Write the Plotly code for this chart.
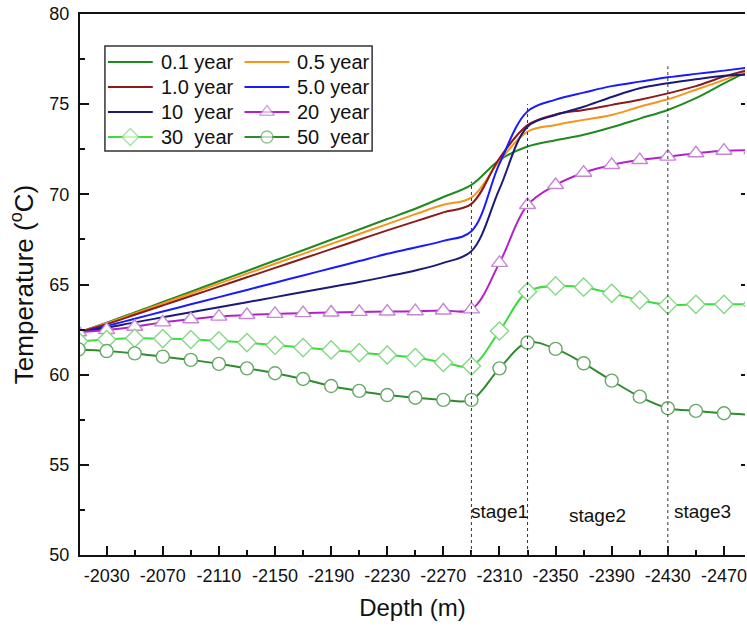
import plotly.graph_objects as go

depth = [-2010, -2030, -2050, -2070, -2090, -2110, -2130, -2150, -2170, -2190,
         -2210, -2230, -2250, -2270, -2290, -2310, -2330, -2350, -2370, -2390,
         -2410, -2430, -2450, -2470, -2490]

t_01 = [62.35, 62.88, 63.45, 64.03, 64.6, 65.18, 65.75, 66.33, 66.9, 67.48,
        68.05, 68.63, 69.2, 69.85, 70.52, 71.9, 72.65, 73.0, 73.3, 73.72,
        74.2, 74.68, 75.33, 76.15, 76.95]
t_05 = [62.35, 62.85, 63.4, 63.95, 64.5, 65.05, 65.6, 66.15, 66.7, 67.25,
        67.8, 68.35, 68.9, 69.42, 69.82, 71.85, 73.48, 73.85, 74.13, 74.4,
        74.86, 75.27, 75.8, 76.35, 76.95]
t_1 = [62.35, 62.8, 63.32, 63.84, 64.36, 64.88, 65.4, 65.92, 66.44, 66.96,
       67.48, 68.0, 68.5, 69.0, 69.47, 72.0, 73.84, 74.43, 74.68, 74.96,
       75.25, 75.6, 76.0, 76.53, 76.95]
t_5 = [62.35, 62.7, 63.1, 63.5, 63.9, 64.3, 64.7, 65.1, 65.5, 65.9,
       66.3, 66.7, 67.05, 67.42, 67.95, 71.7, 74.6, 75.25, 75.64, 76.0,
       76.25, 76.49, 76.68, 76.86, 77.05]
t_10 = [62.35, 62.6, 62.9, 63.18, 63.46, 63.74, 64.02, 64.3, 64.58, 64.86,
        65.14, 65.45, 65.78, 66.2, 66.85, 70.3, 73.75, 74.4, 74.86, 75.4,
        75.88, 76.16, 76.38, 76.57, 76.65]
t_20 = [62.35, 62.48, 62.66, 62.9, 63.07, 63.22, 63.31, 63.37, 63.41, 63.45,
        63.48, 63.5, 63.52, 63.56, 63.62, 66.2, 69.41, 70.52, 71.2, 71.63,
        71.9, 72.09, 72.28, 72.42, 72.45]
t_30 = [61.85, 61.95, 62.02, 62.0, 61.95, 61.88, 61.78, 61.63, 61.5, 61.37,
        61.22, 61.09, 60.95, 60.68, 60.48, 62.42, 64.6, 64.92, 64.85, 64.51,
        64.14, 63.87, 63.9, 63.9, 63.9]
t_50 = [61.4, 61.31, 61.18, 61.0, 60.82, 60.6, 60.35, 60.08, 59.76, 59.37,
        59.1, 58.87, 58.72, 58.6, 58.6, 60.35, 61.78, 61.43, 60.63, 59.67,
        58.78, 58.14, 57.99, 57.86, 57.78]

x_ticks = [-2030, -2070, -2110, -2150, -2190, -2230, -2270, -2310, -2350,
           -2390, -2430, -2470]
x_tick_text = ["-2030", "-2070", "-2110", "-2150", "-2190", "-2230", "-2270",
               "-2310", "-2350", "-2390", "-2430", "-2470"]
y_ticks = [50, 55, 60, 65, 70, 75, 80]

stage_bounds = [-2290, -2330, -2430]
stage_line_top = [70.7, 75.0, 77.1]
stage_names = ["stage1", "stage2", "stage3"]
stage_label_x = [-2310, -2380, -2455]
stage_label_y = [52.4, 52.2, 52.4]

FONT = "Liberation Sans, Arial, sans-serif"

# name, values, line colour, marker symbol, marker colour, legend column, legend row
series = [
    ("0.1 year", t_01, "#1f8a1f", None, None, 0, 0),
    ("0.5 year", t_05, "#f7941d", None, None, 1, 0),
    ("1.0 year", t_1, "#8b1a1a", None, None, 0, 1),
    ("5.0 year", t_5, "#1a1aff", None, None, 1, 1),
    ("10  year", t_10, "#1a1a7a", None, None, 0, 2),
    ("20  year", t_20, "#b321c9", "triangle-up", "#c586d6", 1, 2),
    ("30  year", t_30, "#3ddc3d", "diamond", "#86d886", 0, 3),
    ("50  year", t_50, "#2e8b2e", "circle", "#6aa86a", 1, 3),
]
marker_size = {"triangle-up": 14, "diamond": 14, "circle": 13}

fig = go.Figure()
for name, vals, col, sym, mcol, _, _ in series:
    kw = dict(x=depth, y=vals, name=name, showlegend=False,
              line=dict(color=col, width=2, shape="spline", smoothing=1.0))
    if sym:
        kw["mode"] = "lines+markers"
        kw["marker"] = dict(symbol=sym, size=marker_size[sym], color="white",
                            line=dict(color=mcol, width=1.4))
    else:
        kw["mode"] = "lines"
    fig.add_trace(go.Scatter(**kw))

# dummy trace for right-side ticks
fig.add_trace(go.Scatter(x=[], y=[], yaxis="y2", showlegend=False, hoverinfo="skip"))

# manual legend on a pixel-based helper axis pair (x2 / y3)
leg_col_x = [108, 245]
leg_row_y = [62, 87, 112, 137]
leg_line_len = 45
annotations = []
for name, vals, col, sym, mcol, c, r in series:
    x0 = leg_col_x[c]
    yy = leg_row_y[r]
    xs = [x0, x0 + leg_line_len / 2, x0 + leg_line_len]
    kw = dict(x=xs, y=[yy, yy, yy], xaxis="x2", yaxis="y3", showlegend=False,
              hoverinfo="skip", line=dict(color=col, width=2))
    if sym:
        kw["mode"] = "lines+markers"
        kw["marker"] = dict(symbol=sym, size=[0, marker_size[sym] - 1, 0], color="white",
                            line=dict(color=mcol, width=1.4))
    else:
        kw["mode"] = "lines"
    fig.add_trace(go.Scatter(**kw))
    annotations.append(dict(x=x0 + leg_line_len + 6, y=yy, xref="x2", yref="y3",
                            text=name.replace("  ", "&nbsp; "), showarrow=False,
                            xanchor="left", yanchor="middle",
                            font=dict(family=FONT, size=20, color="#111")))

shapes = []
for xb, yt in zip(stage_bounds, stage_line_top):
    shapes.append(dict(type="line", xref="x", yref="y", x0=xb, x1=xb, y0=50, y1=yt,
                       line=dict(color="#333", width=1, dash="3px,3px")))
shapes.append(dict(type="rect", xref="x2", yref="y3", x0=105, x1=373, y0=151, y1=46,
                   line=dict(color="#333", width=1.5), fillcolor="rgba(0,0,0,0)"))

for nm, lx, ly in zip(stage_names, stage_label_x, stage_label_y):
    annotations.append(dict(x=lx, y=ly, xref="x", yref="y", text=nm, showarrow=False,
                            font=dict(family=FONT, size=19, color="#111")))

fig.update_layout(
    width=747, height=631,
    margin=dict(l=80, r=0, t=14, b=76),
    paper_bgcolor="white", plot_bgcolor="white",
    showlegend=False,
    shapes=shapes, annotations=annotations,
    xaxis=dict(range=[-2011, -2485], tickvals=x_ticks, ticktext=x_tick_text,
               ticks="inside", ticklen=9, ticklabeloverflow="allow",
               tickwidth=1.5, tickcolor="#111", showline=True, linewidth=2,
               linecolor="#111", mirror=True, showgrid=False, zeroline=False,
               ticklabelstandoff=3,
               tickfont=dict(family=FONT, size=18, color="#111"),
               minor=dict(dtick=20, tick0=-2010, ticks="inside", ticklen=5,
                          tickwidth=1.5, tickcolor="#111", showgrid=False),
               title=dict(text="Depth (m)", standoff=15,
                          font=dict(family=FONT, size=24, color="#111"))),
    yaxis=dict(range=[50, 80], tickvals=y_ticks, ticks="inside", ticklen=9,
               tickwidth=1.5, tickcolor="#111", showline=True, linewidth=2,
               linecolor="#111", showgrid=False, zeroline=False,
               ticklabelstandoff=5,
               tickfont=dict(family=FONT, size=18, color="#111"),
               minor=dict(dtick=2.5, tick0=50, ticks="inside", ticklen=5,
                          tickwidth=1.5, tickcolor="#111", showgrid=False),
               title=dict(text="Temperature (<sup>o</sup>C)", standoff=8,
                          font=dict(family=FONT, size=26, color="#111"))),
    yaxis2=dict(range=[50, 80], overlaying="y", side="right", tickvals=y_ticks,
                ticks="inside", ticklen=4, tickwidth=1.5, tickcolor="#111",
                showticklabels=False, showline=False, showgrid=False, zeroline=False),
    xaxis2=dict(domain=[0, 1], range=[80, 747], anchor="y3", visible=False,
                overlaying="x"),
    yaxis3=dict(domain=[0, 1], range=[555, 14], anchor="x2", visible=False,
                overlaying="y"),
)

fig.write_html("out.html")
